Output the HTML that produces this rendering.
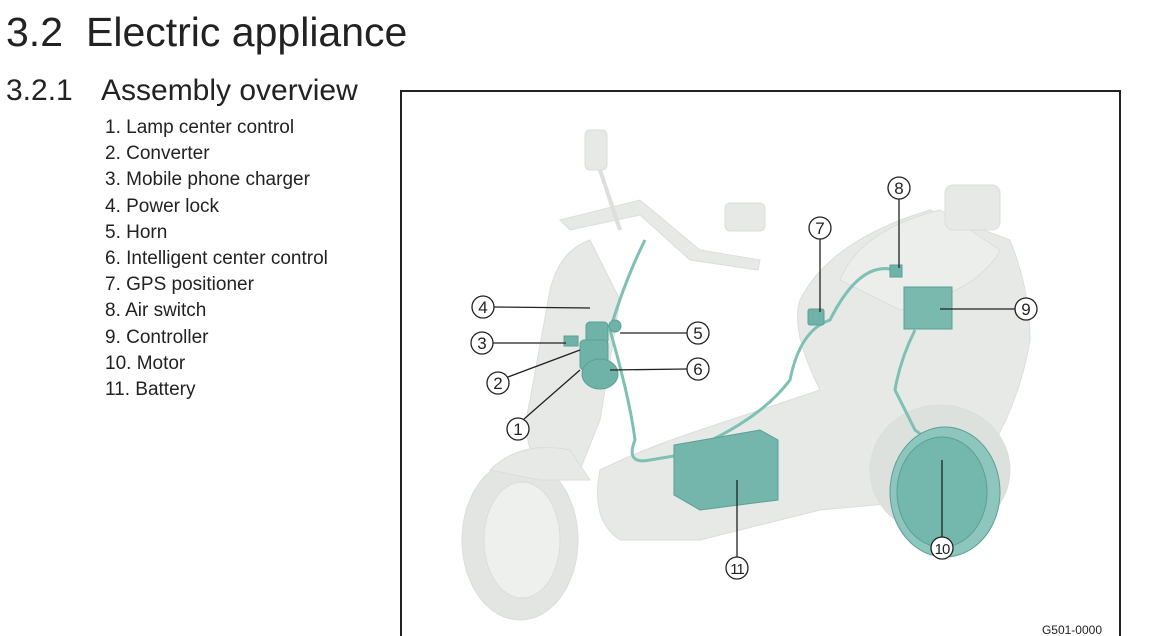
<!DOCTYPE html>
<html><head><meta charset="utf-8"><style>
html,body{margin:0;padding:0;background:#fff;width:1167px;height:636px;overflow:hidden;font-family:"Liberation Sans",sans-serif;color:#222}
.t{position:absolute;white-space:nowrap}
</style></head><body>
<div class="t" style="left:6px;top:9px;font-size:41px;line-height:46px">3.2</div>
<div class="t" style="left:86px;top:9px;font-size:41px;line-height:46px">Electric appliance</div>
<div class="t" style="left:6px;top:74px;font-size:30px;line-height:34px">3.2.1</div>
<div class="t" style="left:101px;top:74px;font-size:30px;line-height:34px">Assembly overview</div>
<div class="t" style="left:105px;top:115px;font-size:19px;line-height:26.2px">1. Lamp center control<br>2. Converter<br>3. Mobile phone charger<br>4. Power lock<br>5. Horn<br>6. Intelligent center control<br>7. GPS positioner<br>8. Air switch<br>9. Controller<br>10. Motor<br>11. Battery</div>
<svg width="1167" height="636" style="position:absolute;left:0;top:0" font-family="Liberation Sans, sans-serif">
<rect x="401" y="91" width="719" height="560" fill="none" stroke="#222" stroke-width="2"/>
<g fill="#e6e9e6" stroke="#dadfdb" stroke-width="1">
<ellipse cx="520" cy="540" rx="58" ry="80" fill="#e2e5e2"/>
<ellipse cx="522" cy="540" rx="38" ry="58" fill="#eef0ee"/>
<path d="M590 240 Q560 250 550 290 L530 400 Q520 440 540 470 L580 470 L600 420 L620 300 Z"/>
<path d="M490 470 Q520 440 570 450 L590 480 L540 480 Z"/>
<path d="M600 470 Q640 450 700 430 L820 390 Q790 330 800 300 Q830 240 930 210 L1010 240 Q1030 290 1030 340 Q1020 400 990 450 L930 500 L820 510 L780 520 L700 540 L620 540 Q590 520 600 470 Z"/>
<path d="M840 280 Q860 230 940 210 L1000 250 Q980 290 900 310 Z" fill="#eceeec"/>
<ellipse cx="940" cy="470" rx="70" ry="65" fill="#dde1dd"/>
<rect x="945" y="185" width="55" height="45" rx="8"/>
<rect x="585" y="130" width="22" height="40" rx="5"/>
<rect x="725" y="203" width="40" height="28" rx="5"/>
<path d="M560 220 L640 200 L700 250 L760 260 L758 270 L690 260 L640 215 L570 230 Z"/>
<path d="M600 170 L620 230" stroke-width="4" stroke="#dcdfdc"/>
</g>
<g fill="none" stroke="#7fbfb4" stroke-width="3">
<path d="M645 240 Q625 280 610 330 Q630 400 635 440 Q625 465 650 460 L680 455"/>
<path d="M690 450 Q760 420 790 380 Q800 330 830 320 Q860 260 895 270"/>
<path d="M915 330 Q900 360 895 390 Q905 410 915 430 Q930 440 950 470"/>
</g>
<g fill="#6fb3a8" stroke="#5aa095" stroke-width="1">
<rect x="586" y="322" width="22" height="22" rx="4"/>
<rect x="580" y="340" width="28" height="30" rx="4"/>
<ellipse cx="600" cy="374" rx="18" ry="15"/>
<circle cx="615" cy="326" r="6"/>
<rect x="564" y="336" width="14" height="10"/>
<rect x="808" y="309" width="16" height="16" rx="2"/>
<rect x="890" y="265" width="12" height="12"/>
<rect x="904" y="287" width="48" height="42" fill="#7ab9ae"/>
<path d="M674 445 L760 430 L778 440 L778 500 L700 510 L674 495 Z" fill="#74b6ab"/>
<ellipse cx="945" cy="492" rx="55" ry="65" fill="#8cc6bc"/>
<ellipse cx="942" cy="492" rx="45" ry="55" fill="#74b8ad"/>
</g>
<g stroke="#222" stroke-width="1.3" fill="none">
<line x1="494" y1="307" x2="590" y2="308"/>
<line x1="493" y1="343" x2="566" y2="343"/>
<line x1="620" y1="333" x2="687" y2="333"/>
<line x1="610" y1="370" x2="687" y2="369"/>
<line x1="508" y1="377" x2="580" y2="350"/>
<line x1="524" y1="419" x2="580" y2="370"/>
<line x1="820" y1="239" x2="820" y2="312"/>
<line x1="899" y1="199" x2="899" y2="268"/>
<line x1="940" y1="309" x2="1015" y2="309"/>
<line x1="942" y1="537" x2="942" y2="460"/>
<line x1="737" y1="557" x2="737" y2="480"/>
</g>
<g stroke="#222" stroke-width="1.3" fill="#fff">
<circle cx="483" cy="307" r="11"/><circle cx="482" cy="343" r="11"/>
<circle cx="698" cy="333" r="11"/><circle cx="698" cy="369" r="11"/>
<circle cx="498" cy="383" r="11"/><circle cx="518" cy="429" r="11"/>
<circle cx="820" cy="228" r="11"/><circle cx="899" cy="188" r="11"/>
<circle cx="1026" cy="309" r="11"/><circle cx="942" cy="548" r="11"/>
<circle cx="737" cy="568" r="11"/>
</g>
<g font-size="17" fill="#222" text-anchor="middle">
<text x="483" y="313">4</text><text x="482" y="349">3</text>
<text x="698" y="339">5</text><text x="698" y="375">6</text>
<text x="498" y="389">2</text><text x="518" y="435">1</text>
<text x="820" y="234">7</text><text x="899" y="194">8</text>
<text x="1026" y="315">9</text>
<text x="942" y="554" font-size="15" letter-spacing="-1">10</text>
<text x="737" y="574" font-size="15" letter-spacing="-1">11</text>
</g>
<text x="1102" y="634" font-size="12" fill="#222" text-anchor="end">G501-0000</text>
</svg>
</body></html>
